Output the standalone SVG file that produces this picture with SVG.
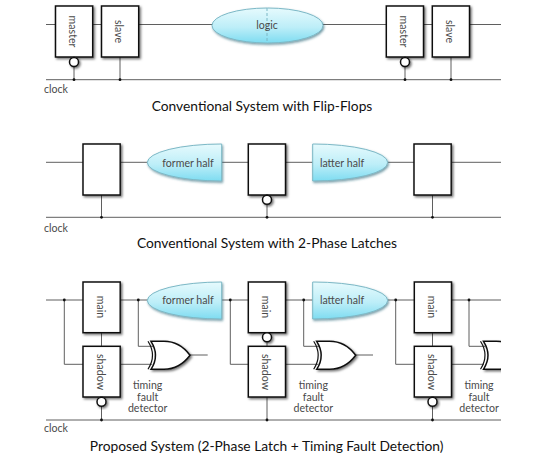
<svg xmlns="http://www.w3.org/2000/svg" xmlns:xlink="http://www.w3.org/1999/xlink" width="534" height="462" viewBox="0 0 534 462">
<style>
text{font-family:Lato,"Open Sans","Liberation Sans",sans-serif;fill:#4a4a4a;font-size:10.6px}
.title{font-size:13.8px;fill:#111;text-anchor:middle}
.c{text-anchor:middle}
.w{fill:none;stroke:#5f5f5f;stroke-width:1}
.d{fill:#111}
.b{fill:#fff;stroke:#111;stroke-width:1.5;filter:url(#s)}
.bub{fill:#fff;stroke:#111;stroke-width:1.5;filter:url(#s)}
.blue{fill:url(#g);stroke:#7cb8c6;stroke-width:1;filter:url(#s2)}
.x{fill:#fff;stroke:#111;stroke-width:1.5;filter:url(#s)}
.x2{fill:none;stroke:#111;stroke-width:1.2}
</style>
<defs>
<filter id="s" x="-30%" y="-30%" width="170%" height="170%"><feDropShadow dx="1.5" dy="1.5" stdDeviation="1" flood-color="#000" flood-opacity=".55"/></filter>
<filter id="s2" x="-20%" y="-30%" width="140%" height="170%"><feDropShadow dx="1" dy="1.5" stdDeviation="1" flood-color="#1c5f70" flood-opacity=".6"/></filter>
<linearGradient id="g" x1="0" y1="0" x2="0" y2="1"><stop offset="0" stop-color="#e6fafd"/><stop offset=".55" stop-color="#bdeef8"/><stop offset="1" stop-color="#7edcf1"/></linearGradient>
<clipPath id="cl"><rect x="0" y="270" width="501" height="120"/></clipPath>
<g id="xor"><path class="x" d="M0 0H13C24 0 33 6 39 14C33 22 24 28 13 28H0Q9 14 0 0Z"/><path class="x2" d="M-3 0Q6 14 -3 28"/></g>
</defs>
<g id="connectors">
<path class="w" d="M46 24.5H501M46 79.7H501M74 57V79.7M120 57V79.7M405 57V79.7M451 57V79.7"/>
<path class="w" d="M46 162.3H501M46 217.3H501M101.5 195V217.3M267 195V217.3M432.5 195V217.3"/>
<path class="w" d="M46 300H501M46 420H501"/>
<path class="w" d="M64.3 300V364.3H83M120 364.3H152M138.3 300V346.3H153M101.5 332.7V346.3M101.5 397V420M190 355H207.7"/>
<path class="w" d="M230.3 300V364.3H248.3M285.7 364.3H318M303.7 300V346.3H319M267 332.7V346.3M267 397V420M355.7 355H373"/>
<path class="w" d="M395.7 300V364.3H414.3M451.3 364.3H484M469 300V346.3H485M432.5 332.7V346.3M432.5 397V420"/>
<g class="d">
<circle cx="74" cy="79.7" r="1.4"/><circle cx="120" cy="79.7" r="1.4"/><circle cx="405" cy="79.7" r="1.4"/><circle cx="451" cy="79.7" r="1.4"/>
<circle cx="101.5" cy="217.3" r="1.4"/><circle cx="267" cy="217.3" r="1.4"/><circle cx="432.5" cy="217.3" r="1.4"/>
<circle cx="64.3" cy="300" r="1.4"/><circle cx="138.3" cy="300" r="1.4"/><circle cx="230.3" cy="300" r="1.4"/><circle cx="303.7" cy="300" r="1.4"/><circle cx="395.7" cy="300" r="1.4"/><circle cx="469" cy="300" r="1.4"/>
<circle cx="101.5" cy="420" r="1.4"/><circle cx="267" cy="420" r="1.4"/><circle cx="432.5" cy="420" r="1.4"/>
</g>
</g>
<g id="ff1-master"><rect class="b" x="55.5" y="6" width="37.2" height="51"/><circle class="bub" cx="74" cy="62" r="4.5"/><text class="c" transform="translate(69 31.5) rotate(90)">master</text></g>
<g id="ff1-slave"><rect class="b" x="101.5" y="6" width="37.2" height="51"/><text class="c" transform="translate(115 31.5) rotate(90)">slave</text></g>
<g id="logic"><ellipse class="blue" cx="267.5" cy="25.5" rx="55.5" ry="17.5"/><path d="M267 8V43" fill="none" stroke="#7cb8c6" stroke-width="1" stroke-dasharray="3 2"/><text class="c" x="267" y="28.5">logic</text></g>
<g id="ff2-master"><rect class="b" x="386.3" y="6" width="37.2" height="51"/><circle class="bub" cx="405" cy="62" r="4.5"/><text class="c" transform="translate(400 31.5) rotate(90)">master</text></g>
<g id="ff2-slave"><rect class="b" x="432.3" y="6" width="37.2" height="51"/><text class="c" transform="translate(446 31.5) rotate(90)">slave</text></g>
<text x="44" y="93">clock</text>
<text class="title" x="262" y="111">Conventional System with Flip-Flops</text>

<g id="latch1"><rect class="b" x="83" y="144" width="37.2" height="51"/></g>
<g id="former1"><path class="blue" d="M221.7 144A74.4 18.5 0 0 0 221.7 181Z"/><text class="c" x="188" y="166.7">former half</text></g>
<g id="latch2"><rect class="b" x="248.3" y="144" width="37.2" height="51"/><circle class="bub" cx="267" cy="199.7" r="4.5"/></g>
<g id="latter1"><path class="blue" d="M312.7 144A75 18.5 0 0 1 312.7 181Z"/><text class="c" x="342" y="166.7">latter half</text></g>
<g id="latch3"><rect class="b" x="414" y="144" width="37.2" height="51"/></g>
<text x="44" y="231.7">clock</text>
<text class="title" x="267" y="248">Conventional System with 2-Phase Latches</text>

<g id="main1"><rect class="b" x="83" y="282" width="37.2" height="50.7"/><text class="c" transform="translate(96.7 307) rotate(90)">main</text></g>
<g id="shadow1"><rect class="b" x="83" y="346.3" width="37.2" height="50.7"/><circle class="bub" cx="101.5" cy="401.7" r="4.5"/><text class="c" transform="translate(96.7 372) rotate(90)">shadow</text></g>
<g id="former2"><path class="blue" d="M221.7 282A74.4 18.5 0 0 0 221.7 319Z"/><text class="c" x="188" y="304.3">former half</text></g>
<g id="xor1"><use xlink:href="#xor" href="#xor" x="151" y="341.3"/><text class="c" x="147.7" y="389">timing</text><text class="c" x="147.7" y="400.5">fault</text><text class="c" x="147.7" y="412">detector</text></g>
<g id="main2"><rect class="b" x="248.3" y="282" width="37.2" height="50.7"/><circle class="bub" cx="267" cy="337.3" r="4.5"/><text class="c" transform="translate(262 307) rotate(90)">main</text></g>
<g id="shadow2"><rect class="b" x="248.3" y="346.3" width="37.2" height="50.7"/><text class="c" transform="translate(262 372) rotate(90)">shadow</text></g>
<g id="latter2"><path class="blue" d="M312.7 282A75 18.5 0 0 1 312.7 319Z"/><text class="c" x="342" y="304.3">latter half</text></g>
<g id="xor2"><use xlink:href="#xor" href="#xor" x="316.7" y="341.3"/><text class="c" x="313.3" y="389">timing</text><text class="c" x="313.3" y="400.5">fault</text><text class="c" x="313.3" y="412">detector</text></g>
<g id="main3"><rect class="b" x="414.3" y="282" width="37.2" height="50.7"/><text class="c" transform="translate(428 307) rotate(90)">main</text></g>
<g id="shadow3"><rect class="b" x="414.3" y="346.3" width="37.2" height="50.7"/><circle class="bub" cx="432.5" cy="401.7" r="4.5"/><text class="c" transform="translate(428 372) rotate(90)">shadow</text></g>
<g id="xor3"><g clip-path="url(#cl)"><use xlink:href="#xor" href="#xor" x="483.5" y="341.3"/></g><text class="c" x="479" y="389">timing</text><text class="c" x="479" y="400.5">fault</text><text class="c" x="479" y="412">detector</text></g>
<text x="44" y="432">clock</text>
<text class="title" x="266.6" y="450.6">Proposed System (2-Phase Latch + Timing Fault Detection)</text>
</svg>
